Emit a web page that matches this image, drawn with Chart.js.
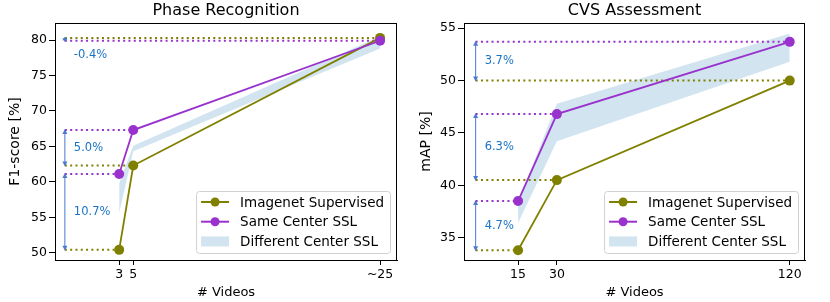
<!DOCTYPE html>
<html>
<head>
<meta charset="utf-8">
<script src="https://cdn.jsdelivr.net/npm/chart.js@4.4.1/dist/chart.umd.min.js"></script>
<style>
  body { margin: 0; background: #fff; }
  #wrap { position: relative; width: 830px; height: 302px; }
  .panel { position: absolute; top: 0; width: 415px; height: 302px; }
</style>
</head>
<body>
<div id="wrap">
  <div class="panel" style="left:0"><canvas id="phase" width="415" height="302"></canvas></div>
  <div class="panel" style="left:415px"><canvas id="cvs" width="415" height="302"></canvas></div>
</div>
<script>
// --- data ---
const seriesNames = ['Imagenet Supervised', 'Same Center SSL', 'Different Center SSL'];

// Phase Recognition (x position of "~25" is drawn further out, like the original)
const phaseX = [3, 5, 40];
const phaseTickLabels = ['3', '5', '~25'];
const phaseImagenet = [50.4, 62.3, 80.3];
const phaseSameSSL = [61.1, 67.3, 79.9];
const phaseDiffLow = [55.6, 64.3, 78.8];
const phaseDiffHigh = [59.8, 65.1, 80.5];
const phaseYTicks = [50, 55, 60, 65, 70, 75, 80];

// CVS Assessment
const cvsX = [15, 30, 120];
const cvsTickLabels = ['15', '30', '120'];
const cvsImagenet = [33.8, 40.5, 50.0];
const cvsSameSSL = [38.5, 46.8, 53.7];
const cvsDiffLow = [36.4, 44.2, 51.8];
const cvsDiffHigh = [38.4, 47.8, 54.5];
const cvsYTicks = [35, 40, 45, 50, 55];

const OLIVE = '#808000';
const PURPLE = '#9932cc';
const BAND = 'rgba(31,119,180,0.2)';
const ARROW = '#4a7bd0';
const NOTE = '#1a74c6';
const FONT = "'DejaVu Sans', sans-serif";

Chart.defaults.font.family = FONT;
Chart.defaults.color = '#000';

// arrows, % gaps, frame and legend
const extrasPlugin = {
  id: 'extras',
  afterDatasetsDraw(chart) {
    const o = chart.options.plugins.extras;
    const ctx = chart.ctx;
    const xs = chart.scales.x, ys = chart.scales.y;
    const ax = xs.getPixelForValue(o.arrowX);

    ctx.save();
    for (let i = 0; i < o.low.length; i++) {
      const y1 = ys.getPixelForValue(o.low[i]);
      const y2 = ys.getPixelForValue(o.high[i]);
      const top = Math.min(y1, y2), bot = Math.max(y1, y2);
      ctx.strokeStyle = ARROW;
      ctx.fillStyle = ARROW;
      ctx.lineWidth = 1;
      ctx.beginPath();
      ctx.moveTo(ax, top + 3);
      ctx.lineTo(ax, bot - 3);
      ctx.stroke();
      const h = Math.min(5, (bot - top) / 2 + 2);
      ctx.beginPath();
      ctx.moveTo(ax, top - 1); ctx.lineTo(ax - 2.5, top - 1 + h); ctx.lineTo(ax + 2.5, top - 1 + h); ctx.closePath();
      ctx.fill();
      ctx.beginPath();
      ctx.moveTo(ax, bot + 1); ctx.lineTo(ax - 2.5, bot + 1 - h); ctx.lineTo(ax + 2.5, bot + 1 - h); ctx.closePath();
      ctx.fill();

      const diff = o.high[i] - o.low[i];
      let ty = (y1 + y2) / 2;
      if (Math.abs(diff) < 1) ty += 16;
      ctx.fillStyle = NOTE;
      ctx.font = '11.5px ' + FONT;
      ctx.textAlign = 'left';
      ctx.textBaseline = 'middle';
      ctx.fillText(diff.toFixed(1) + '%', ax + 9, ty);
    }

    // frame round the axes
    const a = chart.chartArea;
    ctx.strokeStyle = '#000';
    ctx.lineWidth = 1;
    ctx.strokeRect(a.left + 0.5, a.top + 0.5, a.right - a.left - 1, a.bottom - a.top);

    // legend, lower right
    ctx.font = '13.5px ' + FONT;
    const w = 44 + Math.max(...seriesNames.map(s => ctx.measureText(s).width)) + 6;
    const hgt = 62;
    const bx = a.right - 7 - w, by = a.bottom - 7 - hgt;
    ctx.fillStyle = 'rgba(255,255,255,0.8)';
    ctx.strokeStyle = '#d0d0d0';
    ctx.beginPath();
    ctx.roundRect(bx + 0.5, by + 0.5, w, hgt, 3);
    ctx.fill();
    ctx.stroke();
    const colors = [OLIVE, PURPLE];
    seriesNames.forEach((name, k) => {
      const ry = by + 11 + k * 19.7;
      if (k < 2) {
        ctx.strokeStyle = colors[k];
        ctx.lineWidth = 2;
        ctx.beginPath();
        ctx.moveTo(bx + 5, ry); ctx.lineTo(bx + 33, ry);
        ctx.stroke();
        ctx.fillStyle = colors[k];
        ctx.beginPath();
        ctx.arc(bx + 19, ry, 4.5, 0, Math.PI * 2);
        ctx.fill();
      } else {
        ctx.fillStyle = BAND;
        ctx.fillRect(bx + 5, ry - 5, 28, 10);
      }
      ctx.fillStyle = '#000';
      ctx.textAlign = 'left';
      ctx.textBaseline = 'middle';
      ctx.fillText(name, bx + 44, ry + 1);
    });
    ctx.restore();
  }
};

function makeChart(id, cfg) {
  const pts = (xs, ys) => xs.map((x, i) => ({ x: x, y: ys[i] }));
  const dotted = [];
  cfg.x.forEach((x, i) => {
    dotted.push({ data: [{ x: cfg.arrowX, y: cfg.imagenet[i] }, { x: x, y: cfg.imagenet[i] }], color: OLIVE });
    dotted.push({ data: [{ x: cfg.arrowX, y: cfg.ssl[i] }, { x: x, y: cfg.ssl[i] }], color: PURPLE });
  });

  const datasets = [
    { label: 'diffLow', data: pts(cfg.x, cfg.diffLow), borderWidth: 0, pointRadius: 0, fill: false, order: 5 },
    { label: seriesNames[2], data: pts(cfg.x, cfg.diffHigh), borderWidth: 0, pointRadius: 0,
      fill: '-1', backgroundColor: BAND, order: 5 }
  ];
  dotted.forEach(d => datasets.push({
    label: 'guide', data: d.data, borderColor: d.color, borderWidth: 2,
    borderDash: [2, 3.3], pointRadius: 0, fill: false, order: 3
  }));
  datasets.push({
    label: seriesNames[0], data: pts(cfg.x, cfg.imagenet), borderColor: OLIVE, backgroundColor: OLIVE,
    borderWidth: 1.8, pointRadius: 5, pointBorderWidth: 0, fill: false, order: 2
  });
  datasets.push({
    label: seriesNames[1], data: pts(cfg.x, cfg.ssl), borderColor: PURPLE, backgroundColor: PURPLE,
    borderWidth: 1.8, pointRadius: 5, pointBorderWidth: 0, fill: false, order: 1
  });

  return new Chart(document.getElementById(id), {
    type: 'line',
    data: { datasets: datasets },
    plugins: [extrasPlugin],
    options: {
      responsive: false,
      animation: false,
      devicePixelRatio: 1,
      layout: { padding: { right: cfg.padRight, left: 0, top: 0, bottom: 0 } },
      plugins: {
        legend: { display: false },
        tooltip: { enabled: false },
        title: {
          display: true, text: cfg.title, fullSize: false, color: '#000',
          font: { size: 16, weight: 'normal' }, padding: { top: 1.5, bottom: 2.3 }
        },
        extras: { arrowX: cfg.arrowX, low: cfg.imagenet, high: cfg.ssl }
      },
      scales: {
        x: {
          type: 'linear', min: cfg.xMin, max: cfg.xMax,
          afterBuildTicks: s => { s.ticks = cfg.x.map(v => ({ value: v })); },
          afterFit: s => { s.height = 42; },
          ticks: {
            autoSkip: false, maxRotation: 0, padding: 2, color: '#000', font: { size: 12.5 },
            callback: v => cfg.tickLabels[cfg.x.indexOf(v)]
          },
          grid: { drawOnChartArea: false, tickLength: 5, color: '#000' },
          border: { color: '#000' },
          title: { display: true, text: '# Videos', color: '#000', font: { size: 13 }, padding: { bottom: 2 } }
        },
        y: {
          min: cfg.yMin, max: cfg.yMax,
          afterBuildTicks: s => { s.ticks = cfg.yTicks.map(v => ({ value: v })); },
          afterFit: s => { s.width = cfg.yWidth; },
          ticks: { padding: 2, color: '#000', font: { size: 12.5 } },
          grid: { drawOnChartArea: false, tickLength: 6, color: '#000' },
          border: { color: '#000' },
          title: { display: true, text: cfg.yTitle, color: '#000', font: { size: 14 }, padding: { top: cfg.yTitlePad } }
        }
      }
    }
  });
}

makeChart('phase', {
  title: 'Phase Recognition', yTitle: 'F1-score [%]',
  x: phaseX, tickLabels: phaseTickLabels, imagenet: phaseImagenet, ssl: phaseSameSSL,
  diffLow: phaseDiffLow, diffHigh: phaseDiffHigh, yTicks: phaseYTicks,
  xMin: -6.1, xMax: 42.4, yMin: 48.97, yMax: 82.4, arrowX: -4.7,
  yWidth: 55, yTitlePad: 7, padRight: 18
});

makeChart('cvs', {
  title: 'CVS Assessment', yTitle: 'mAP [%]',
  x: cvsX, tickLabels: cvsTickLabels, imagenet: cvsImagenet, ssl: cvsSameSSL,
  diffLow: cvsDiffLow, diffHigh: cvsDiffHigh, yTicks: cvsYTicks,
  xMin: -5.9, xMax: 125.9, yMin: 32.87, yMax: 55.5, arrowX: -1.4,
  yWidth: 49, yTitlePad: 3, padRight: 25
});
</script>
</body>
</html>
